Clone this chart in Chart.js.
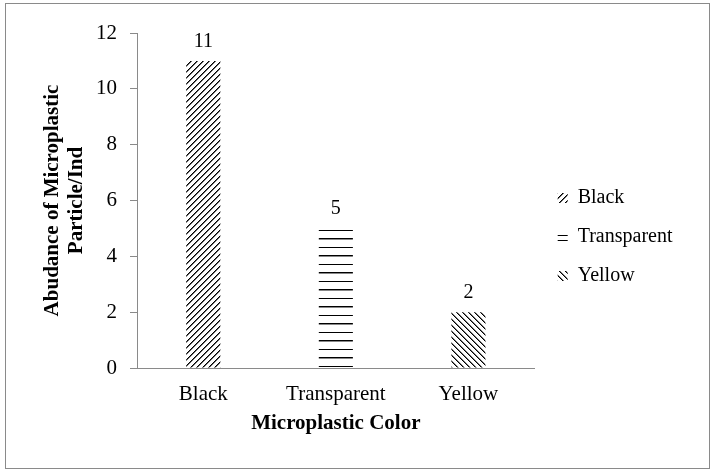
<!DOCTYPE html>
<html><head><meta charset="utf-8">
<script src="https://cdn.jsdelivr.net/npm/chart.js@4/dist/chart.umd.min.js"></script>
<style>html,body{margin:0;padding:0;background:#fff}#wrap{width:711px;height:471px}</style>
</head><body><div id="wrap"><canvas id="c" width="711" height="471"></canvas></div>
<script>
const categories = ['Black', 'Transparent', 'Yellow'];
const values = [11, 5, 2];
const yTicks = [0, 2, 4, 6, 8, 10, 12];
const xTitle = 'Microplastic Color';
const yTitle = ['Abudance of Microplastic', 'Particle/Ind'];

const FONT = "'Liberation Serif', 'Times New Roman', serif";

function makePattern(kind) {
  const c = document.createElement('canvas');
  const g = c.getContext('2d');
  if (kind === 'up') {
    c.width = 6; c.height = 6;
    for (let i = 0; i < 6; i++) {
      g.fillStyle = '#000'; g.fillRect(i, 5 - i, 1, 1);
      g.fillStyle = '#666'; g.fillRect((i + 1) % 6, 5 - i, 1, 1);
    }
  } else if (kind === 'horiz') {
    c.width = 4; c.height = 17;
    g.fillStyle = '#000'; g.fillRect(0, 0, 4, 1);
    g.fillStyle = '#888'; g.fillRect(0, 1, 4, 1);
    g.fillStyle = '#000'; g.fillRect(0, 9, 4, 1);
  } else if (kind === 'horizSmall') {
    c.width = 4; c.height = 5;
    g.fillStyle = '#000'; g.fillRect(0, 0, 4, 1);
  } else {
    c.width = 6; c.height = 6;
    for (let i = 0; i < 6; i++) {
      g.fillStyle = '#000'; g.fillRect(i, i, 1, 1);
      g.fillStyle = '#777'; g.fillRect((i + 1) % 6, i, 1, 1);
    }
  }
  return g.createPattern(c, 'repeat');
}
const patterns = [makePattern('up'), makePattern('horiz'), makePattern('down')];
const legendPatterns = [patterns[0], makePattern('horizSmall'), patterns[2]];

const frame = {
  id: 'frame',
  beforeDraw(chart) {
    const ctx = chart.ctx;
    ctx.save();
    ctx.fillStyle = '#fff';
    ctx.fillRect(0, 0, chart.width, chart.height);
    ctx.strokeStyle = '#8a8a8a';
    ctx.lineWidth = 1;
    ctx.strokeRect(5.5, 3.5, 704, 465);
    ctx.restore();
  }
};

const valueLabels = {
  id: 'valueLabels',
  afterDatasetsDraw(chart) {
    const ctx = chart.ctx;
    const meta = chart.getDatasetMeta(0);
    ctx.save();
    ctx.font = '20px ' + FONT;
    ctx.fillStyle = '#000';
    ctx.textAlign = 'center';
    ctx.textBaseline = 'alphabetic';
    meta.data.forEach((bar, i) => {
      ctx.fillText(String(values[i]), bar.x, bar.y - 14);
    });
    ctx.restore();
  }
};

new Chart(document.getElementById('c'), {
  type: 'bar',
  data: {
    labels: categories,
    datasets: [{
      data: values,
      backgroundColor: patterns,
      borderWidth: 0,
      categoryPercentage: 1,
      barPercentage: 0.257
    }]
  },
  options: {
    responsive: false,
    animation: false,
    events: [],
    layout: { padding: { left: 30, right: 28.5, top: 33, bottom: 30 } },
    plugins: {
      tooltip: { enabled: false },
      legend: {
        position: 'right',
        align: 'center',
        labels: {
          font: { family: FONT, size: 20 },
          color: '#000',
          boxWidth: 10,
          boxHeight: 10,
          padding: 19,
          generateLabels() {
            return categories.map((t, i) => ({
              text: t, fillStyle: legendPatterns[i], strokeStyle: 'rgba(0,0,0,0)',
              lineWidth: 0, hidden: false, index: i, fontColor: '#000'
            }));
          }
        }
      }
    },
    scales: {
      x: {
        grid: { display: false },
        border: { display: true, color: '#8a8a8a', width: 1 },
        ticks: { font: { family: FONT, size: 21 }, color: '#000', padding: 6, maxRotation: 0 },
        title: { display: true, text: xTitle, color: '#000',
          font: { family: FONT, size: 21, weight: 'bold', lineHeight: 1.2 },
          padding: { top: 0, bottom: 4.4 } },
        afterFit(s) { s.height = 73; s.paddingLeft = 0; s.paddingRight = 0; }
      },
      y: {
        min: 0, max: 12,
        afterBuildTicks(s) { s.ticks = yTicks.map(v => ({ value: v })); },
        grid: { display: true, drawOnChartArea: false, drawTicks: true, tickLength: 7, color: '#8a8a8a' },
        border: { display: true, color: '#8a8a8a', width: 1 },
        ticks: { font: { family: FONT, size: 21 }, color: '#000', padding: 13 },
        title: { display: true, text: yTitle, color: '#000',
          font: { family: FONT, size: 21, weight: 'bold', lineHeight: 1.1 },
          padding: { top: 11.5, bottom: 0 } },
        afterFit(s) { s.width = 107; s.paddingTop = 0; s.paddingBottom = 0; }
      },
      yR: {
        position: 'right',
        display: false,
        afterFit(s) { s.width = 4; s.paddingTop = 0; s.paddingBottom = 0; }
      }
    }
  },
  plugins: [frame, valueLabels]
});
</script>
</body></html>
